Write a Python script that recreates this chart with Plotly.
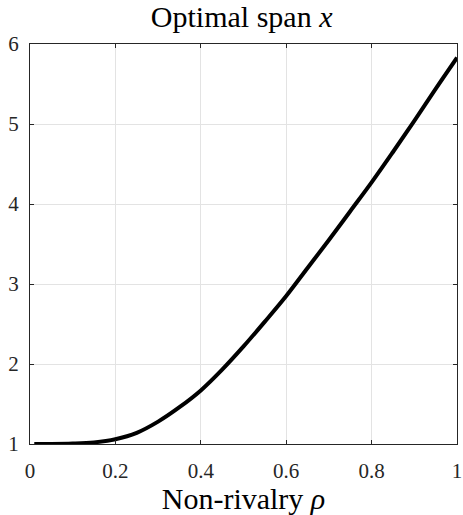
import plotly.graph_objects as go

rho = [0.01, 0.05, 0.1, 0.15, 0.2, 0.25, 0.3, 0.35, 0.4, 0.45, 0.5,
       0.55, 0.6, 0.65, 0.7, 0.75, 0.8, 0.85, 0.9, 0.95, 1.0]
span = [1.0, 1.0, 1.005, 1.02, 1.06, 1.14, 1.28, 1.46, 1.67, 1.93, 2.22,
        2.53, 2.85, 3.20, 3.55, 3.91, 4.27, 4.65, 5.04, 5.44, 5.83]

x_ticks = [0, 0.2, 0.4, 0.6, 0.8, 1]
x_labels = ["0", "0.2", "0.4", "0.6", "0.8", "1"]
y_ticks = [1, 2, 3, 4, 5, 6]
y_labels = ["1", "2", "3", "4", "5", "6"]

FONT = "Liberation Serif"

fig = go.Figure()
fig.add_trace(go.Scatter(x=rho, y=span, mode="lines",
                         line=dict(color="black", width=4, shape="spline", smoothing=1.0),
                         showlegend=False, hoverinfo="skip"))

axis_common = dict(showline=True, linecolor="#262626", linewidth=1, mirror="ticks",
                   ticks="inside", ticklen=4, tickcolor="#262626",
                   showgrid=True, gridcolor="#e3e3e3", gridwidth=1,
                   zeroline=False, automargin=False,
                   tickfont=dict(family=FONT, size=21, color="#262626"))

fig.update_layout(
    width=463, height=515,
    margin=dict(l=30, r=6, t=44, b=71),
    paper_bgcolor="white", plot_bgcolor="white",
    title=dict(text="Optimal span <i>x</i>", x=0.522, xanchor="center",
               y=1 - 16 / 515, yanchor="middle", yref="container",
               font=dict(family=FONT, size=30, color="black")),
    xaxis=dict(range=[0, 1], tickvals=x_ticks, ticktext=x_labels,
               ticklabelstandoff=8,
               title=dict(text="Non-rivalry <i>ρ</i>", standoff=8,
                          font=dict(family=FONT, size=30, color="black")),
               **axis_common),
    yaxis=dict(range=[1, 6], tickvals=y_ticks, ticktext=y_labels,
               ticklabelstandoff=6,
               **axis_common),
)

fig.write_html("out.html")
